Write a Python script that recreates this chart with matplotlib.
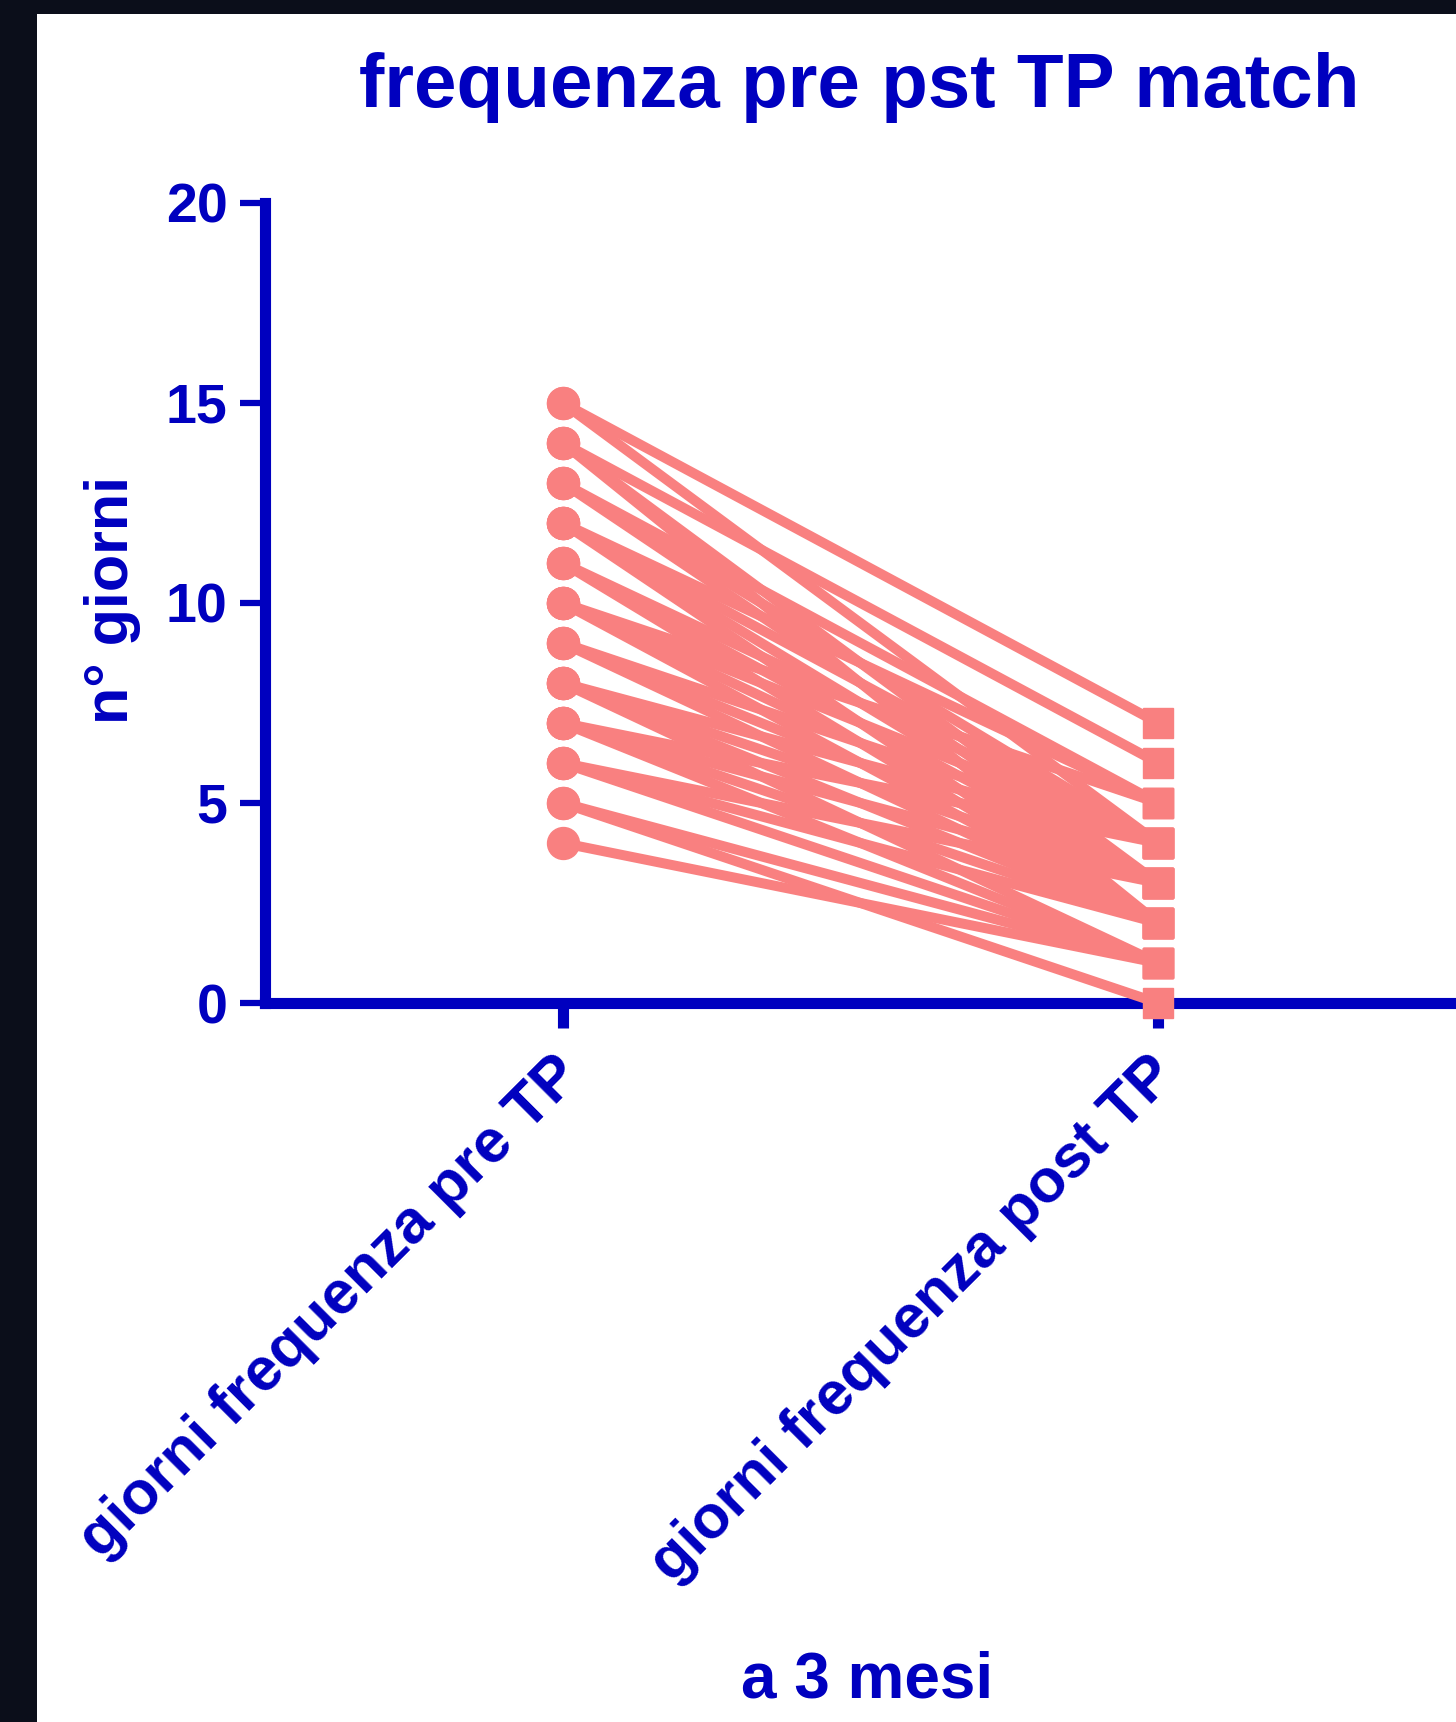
import matplotlib.pyplot as plt
from matplotlib.patches import Rectangle
import numpy as np

# paired values (pre TP, post TP at 3 months)
pre_tp = [15, 15, 14, 14, 14, 13, 13, 13, 12, 12, 12, 12, 11, 11, 11,
          10, 10, 10, 10, 9, 9, 9, 8, 8, 8, 8, 7, 7, 7, 7,
          6, 6, 6, 5, 5, 4]
post_tp = [7, 4, 6, 3, 2, 5, 4, 3, 5, 4, 3, 2, 4, 3, 2,
           5, 4, 3, 2, 4, 3, 2, 4, 3, 2, 1, 4, 3, 2, 1,
           3, 2, 1, 1, 0, 1]

categories = ['giorni frequenza pre TP', 'giorni frequenza post TP']
y_ticks = [0, 5, 10, 15, 20]

blue = '#0000BF'
pink = '#F98080'
bg = '#0b0e1a'

plt.rcParams['font.family'] = ['Liberation Sans', 'DejaVu Sans']
plt.rcParams['font.weight'] = 'bold'

fig = plt.figure(figsize=(14.56, 17.22), dpi=100)
fig.patch.set_facecolor(bg)
# white slide panel
fig.patches.append(Rectangle((37 / 1456, 0), 1 - 37 / 1456, 1 - 14 / 1722,
                             transform=fig.transFigure, facecolor='white',
                             edgecolor='none', zorder=-5))

ax = fig.add_axes([265 / 1456, 719 / 1722, 1 - 265 / 1456, 0.4646])
ax.set_facecolor('none')

for a, b in zip(pre_tp, post_tp):
    ax.plot([0, 1], [a, b], color=pink, lw=7.2, solid_capstyle='butt',
            zorder=3, clip_on=False)
ax.plot(np.zeros(len(pre_tp)), pre_tp, 'o', color=pink, ms=23,
        zorder=4, clip_on=False)
ax.plot(np.ones(len(post_tp)), post_tp, 's', color=pink, ms=22,
        zorder=4, clip_on=False)

ax.set_xlim(-0.5, 1.5)
ax.set_ylim(0, 20)
ax.set_yticks(y_ticks)
ax.set_xticks([0, 1])
ax.set_xticklabels([])
ax.set_yticklabels([str(v) for v in y_ticks], fontsize=40, color=blue,
                   fontweight='bold')

# rotated category labels, placed by hand under each tick
for i, lab in enumerate(categories):
    ax.annotate(lab, xy=(i, 0), xycoords=('data', 'axes fraction'),
                xytext=(-8, -31), textcoords='offset points',
                rotation=45, rotation_mode='anchor', ha='right', va='top',
                fontsize=44, color=blue, fontweight='bold')

for s in ['top', 'right']:
    ax.spines[s].set_visible(False)
for s in ['left', 'bottom']:
    ax.spines[s].set_color(blue)
    ax.spines[s].set_linewidth(8)
    ax.spines[s].set_zorder(2)
ax.spines['left'].set_capstyle('projecting')

ax.tick_params(axis='y', colors=blue, length=18, width=4.5, pad=9)
ax.tick_params(axis='x', colors=blue, length=18, width=8)

fig.text(0.59, 0.949, 'frequenza pre pst TP match', ha='center', va='center',
         fontsize=55, color=blue, fontweight='bold')
fig.text(0.077, 0.6516, 'n° giorni', ha='center', va='center', rotation=90,
         fontsize=44, color=blue, fontweight='bold')
fig.text(0.5955, 0.0145, 'a 3 mesi', ha='center', va='baseline',
         fontsize=46, color=blue, fontweight='bold')

fig.savefig('out.png', dpi=100, facecolor=fig.get_facecolor())
